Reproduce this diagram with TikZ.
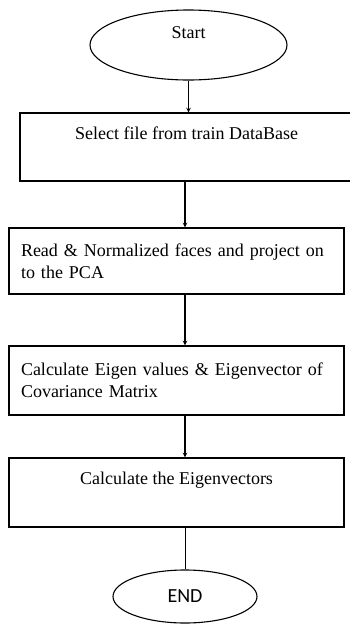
\documentclass[tikz,border=0pt]{standalone}
\usepackage{fontspec}
\setmainfont{Liberation Serif}
\newfontfamily\endfont{Carlito}
\usetikzlibrary{shapes.geometric,positioning}

\begin{document}
\begin{tikzpicture}[>=stealth,x=1pt,y=-1pt,line width=1.1pt,
		every node/.style={font=\fontsize{18}{22}\selectfont},
		term/.style={draw,ellipse,inner sep=0pt},
		proc/.style={draw,rectangle,inner xsep=12pt,inner ysep=0pt}]
		\useasboundingbox (0,0) rectangle (350,624);
		
		\node[term,minimum width=197pt,minimum height=70pt,text depth=24pt] (T_s) at (188.5,45) {Start};
		\node[proc,minimum width=333pt,minimum height=68pt,align=center] (B_1) at (186.5,147) {Select file from train DataBase\\ \strut};
		\node[proc,minimum width=335pt,minimum height=66pt,text width=311pt,align=left] (B_2) at (176.5,261) {Read \& Normalized faces and project on\\ to the PCA};
		\node[proc,minimum width=335pt,minimum height=69pt,text width=311pt,align=left] (B_3) at (176.5,380.5) {Calculate Eigen values \& Eigenvector of\\ Covariance Matrix};
		\node[proc,minimum width=335pt,minimum height=69pt,align=center] (B_4) at (176.5,492.5) {Calculate the Eigenvectors\\ \strut};
		\node[term,minimum width=144pt,minimum height=53pt,font=\endfont\fontsize{20}{24}\selectfont] (T_e) at (185,596.5) {END};
		
		\draw[->] (T_s.south) -- (T_s.south |- B_1.north);
		\draw[->] (B_1.south -| T_e) -- (B_2.north -| T_e);
		\draw[->] (B_2.south -| T_e) -- (B_3.north -| T_e);
		\draw[->] (B_3.south -| T_e) -- (B_4.north -| T_e);
		\draw[line width=0.7pt] (B_4.south -| T_e) -- (T_e.north);
	\end{tikzpicture}
\end{document}
